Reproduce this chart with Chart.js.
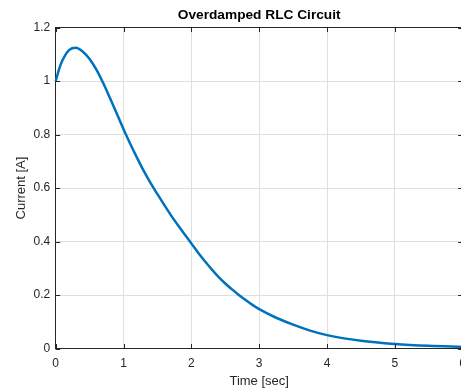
<!DOCTYPE html>
<html>
<head>
<meta charset="utf-8">
<script src="https://cdn.jsdelivr.net/npm/chart.js@4/dist/chart.umd.min.js"></script>
<style>
html, body { margin: 0; padding: 0; background: #fff; overflow: hidden; }
canvas { display: block; }
</style>
</head>
<body>
<canvas id="c" width="474" height="389" style="width:474px;height:389px"></canvas>
<script>
// ---- data ----
const timeSec = [0, 0.05, 0.1, 0.2, 0.3, 0.4, 0.5, 0.6, 0.7, 0.8, 0.9, 1.0, 1.1, 1.2, 1.3, 1.4, 1.5, 1.6, 1.7, 1.8, 1.9, 2.0, 2.1, 2.2, 2.3, 2.4, 2.5, 2.6, 2.7, 2.8, 2.9, 3.0, 3.25, 3.5, 3.75, 4.0, 4.5, 5.0, 5.5, 6.0];
const currentA = [1.0, 1.045, 1.078, 1.117, 1.125, 1.110, 1.083, 1.043, 0.993, 0.937, 0.879, 0.820, 0.765, 0.713, 0.663, 0.618, 0.577, 0.537, 0.498, 0.462, 0.427, 0.393, 0.358, 0.326, 0.296, 0.268, 0.243, 0.221, 0.200, 0.181, 0.163, 0.147, 0.115, 0.089, 0.067, 0.050, 0.029, 0.017, 0.010, 0.006];
const xTicks = [0, 1, 2, 3, 4, 5, 6];
const yTicks = [0, 0.2, 0.4, 0.6, 0.8, 1, 1.2];
const titleText = 'Overdamped RLC Circuit';
const xLabel = 'Time [sec]';
const yLabel = 'Current [A]';

const AX = '#262626';
const GRID = '#dfdfdf';
const FONT = "'Liberation Sans', Arial, Helvetica, sans-serif";

const points = timeSec.map((t, i) => ({ x: t, y: currentA[i] }));

const inwardTicks = {
  id: 'inwardTicks',
  afterDraw(chart) {
    const { ctx, chartArea: a, scales } = chart;
    const len = 4.5;
    ctx.save();
    ctx.strokeStyle = AX;
    ctx.lineWidth = 1;
    ctx.beginPath();
    xTicks.forEach(v => {
      const px = Math.round(scales.x.getPixelForValue(v)) + 0.5;
      ctx.moveTo(px, a.bottom); ctx.lineTo(px, a.bottom - len);
      ctx.moveTo(px, a.top); ctx.lineTo(px, a.top + len);
    });
    yTicks.forEach(v => {
      const py = Math.round(scales.y.getPixelForValue(v)) + 0.5;
      ctx.moveTo(a.left, py); ctx.lineTo(a.left + len, py);
      ctx.moveTo(a.right, py); ctx.lineTo(a.right - len, py);
    });
    ctx.stroke();
    ctx.restore();
  }
};

new Chart(document.getElementById('c'), {
  type: 'line',
  data: {
    datasets: [{
      data: points,
      borderColor: '#0072BD',
      borderWidth: 2.5,
      pointRadius: 0,
      fill: false,
      cubicInterpolationMode: 'monotone',
      clip: false
    }]
  },
  options: {
    responsive: false,
    animation: false,
    devicePixelRatio: 1,
    layout: { padding: { left: 0, right: 0, top: 0, bottom: 0 } },
    plugins: { legend: { display: false }, tooltip: { enabled: false }, title: { display: false } },
    scales: {
      x: {
        type: 'linear', position: 'bottom', min: 0, max: 6,
        afterBuildTicks: s => { s.ticks = xTicks.map(v => ({ value: v })); },
        afterFit: s => { s.height = 40.5; },
        ticks: { color: AX, padding: 8, maxRotation: 0, font: { family: FONT, size: 12 }, callback: v => String(v) },
        grid: { color: GRID, lineWidth: 1, drawTicks: false },
        border: { display: true, color: AX, width: 1 },
        title: { display: true, text: xLabel, color: AX, font: { family: FONT, size: 13 }, padding: { top: 0, bottom: 0 } }
      },
      x2: {
        type: 'linear', position: 'top', min: 0, max: 6,
        afterFit: s => { s.height = 27.6; },
        ticks: { display: false },
        grid: { drawOnChartArea: false, drawTicks: false },
        border: { display: true, color: AX, width: 1 },
        title: { display: true, text: titleText, color: '#000', font: { family: FONT, size: 13.7, weight: 'bold' }, padding: { top: 7, bottom: 0 } }
      },
      y: {
        type: 'linear', position: 'left', min: 0, max: 1.2,
        afterBuildTicks: s => { s.ticks = yTicks.map(v => ({ value: v })); },
        afterFit: s => { s.width = 55.7; },
        ticks: { color: AX, padding: 5.5, font: { family: FONT, size: 12 }, callback: v => String(+v.toFixed(1)) },
        grid: { color: GRID, lineWidth: 1, drawTicks: false },
        border: { display: true, color: AX, width: 1 },
        title: { display: true, text: yLabel, color: AX, font: { family: FONT, size: 13 }, padding: { top: 14, bottom: 0 } }
      },
      y2: {
        type: 'linear', position: 'right', min: 0, max: 1.2,
        afterFit: s => { s.width = 4; },
        ticks: { display: false },
        grid: { drawOnChartArea: false, drawTicks: false },
        border: { display: true, color: AX, width: 1 }
      }
    }
  },
  plugins: [inwardTicks]
});
</script>
</body>
</html>
